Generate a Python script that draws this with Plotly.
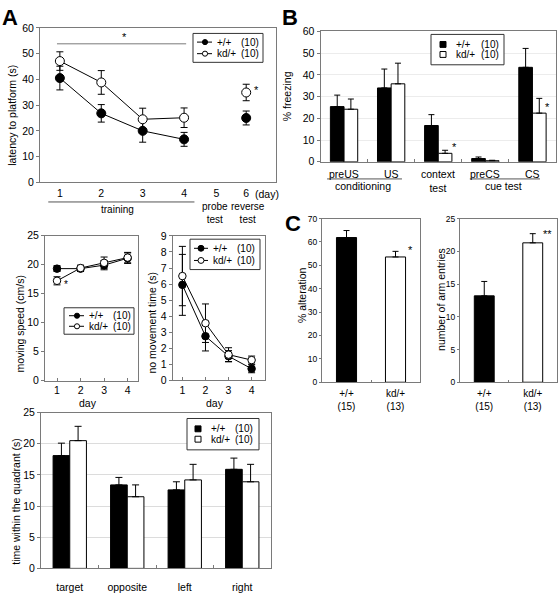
import plotly.graph_objects as go

W, H = 558, 594
FONT = "Liberation Sans, Arial, Helvetica, sans-serif"

# ---------------- data ----------------
# A: water maze, latency to platform (s)
train_days = [1, 2, 3, 4]
latency_wt = [40.5, 26.8, 20.0, 16.7]
latency_wt_err = [4.6, 3.4, 4.4, 2.7]
latency_kd = [47.1, 38.8, 24.5, 25.1]
latency_kd_err = [3.6, 4.6, 4.3, 3.8]
reverse_days = [6]
reverse_wt = [25.0]
reverse_wt_err = [2.7]
reverse_kd = [34.9]
reverse_kd_err = [3.2]
day_ticks = [1, 2, 3, 4, 5, 6]

# B: fear conditioning, % freezing
fear_phases = ["preUS", "US", "context", "preCS", "CS"]
freeze_wt = [25.4, 34.0, 16.7, 1.5, 43.5]
freeze_wt_err = [5.3, 8.7, 5.0, 0.7, 8.7]
freeze_kd = [24.2, 35.9, 3.9, 0.5, 22.4]
freeze_kd_err = [4.7, 9.5, 1.4, 0.2, 6.8]

# C: Y-maze
genotypes_c = ["+/+<br>(15)", "kd/+<br>(13)"]
alternation = [61.9, 53.6]
alternation_err = [3.0, 2.4]
arm_entries = [13.2, 21.3]
arm_entries_err = [2.2, 1.4]

# moving speed (cm/s)
speed_wt = [19.3, 19.3, 19.9, 21.1]
speed_wt_err = [0.5, 0.5, 0.8, 0.9]
speed_kd = [17.2, 19.4, 20.3, 21.2]
speed_kd_err = [0.7, 0.5, 1.0, 0.9]

# no movement time (s)
nomove_wt = [5.95, 2.75, 1.5, 0.72]
nomove_wt_err = [1.9, 0.92, 0.35, 0.25]
nomove_kd = [6.5, 3.56, 1.6, 1.26]
nomove_kd_err = [1.85, 1.2, 0.43, 0.25]

# probe test: time within the quadrant (s)
quadrants = ["target", "opposite", "left", "right"]
quad_wt = [18.1, 13.4, 12.6, 15.9]
quad_wt_err = [2.0, 1.2, 1.3, 1.8]
quad_kd = [20.5, 11.5, 14.2, 13.9]
quad_kd_err = [2.3, 1.9, 2.5, 2.8]

# day -> position on the (compressed after day 4) axis of panel A
day_axis_pos = {1: 1, 2: 2, 3: 3, 4: 4, 5: 4.78, 6: 5.5}

# ---------------- helpers ----------------
def fx(p):
    return p / W

def fy(p):
    return 1 - p / H

def dom_x(a, b):
    return [fx(a), fx(b)]

def dom_y(top, bottom):
    return [fy(bottom), fy(top)]

FRAME = "#7a7a7a"

def axis(domain, rng, anchor, tickfont=10.5, **kw):
    d = dict(domain=domain, range=rng, anchor=anchor, showline=True, mirror=True,
             linecolor=FRAME, linewidth=1, showgrid=False, zeroline=False,
             tickfont=dict(size=tickfont, color="black", family=FONT),
             tickcolor=FRAME, fixedrange=True)
    d.update(kw)
    return d

fig = go.Figure()

def err(arr, sym=True, width=3.5):
    e = dict(type="data", array=arr, color="black", thickness=1, width=width, visible=True)
    if not sym:
        e["symmetric"] = False
        e["arrayminus"] = [0] * len(arr)
    return e

def line_trace(x, y, e, filled, xa, ya, size=8, mode="lines+markers"):
    fig.add_trace(go.Scatter(
        x=x, y=y, mode=mode, xaxis=xa, yaxis=ya, showlegend=False, hoverinfo="skip",
        line=dict(color="black", width=1),
        marker=dict(size=size, color="black" if filled else "white",
                    line=dict(color="black", width=1)),
        error_y=err(e), cliponaxis=False))

# ---- Panel A ----
pos_train = [day_axis_pos[d] for d in train_days]
pos_rev = [day_axis_pos[d] for d in reverse_days]
line_trace(pos_train, latency_wt, latency_wt_err, True, "x", "y", 9)
line_trace(pos_train, latency_kd, latency_kd_err, False, "x", "y", 9)
line_trace(pos_rev, reverse_wt, reverse_wt_err, True, "x", "y", 9, "markers")
line_trace(pos_rev, reverse_kd, reverse_kd_err, False, "x", "y", 9, "markers")

# ---- Panel B ----
fig.add_trace(go.Bar(x=fear_phases, y=freeze_wt, xaxis="x2", yaxis="y2", showlegend=False,
                     hoverinfo="skip",
                     marker=dict(color="black", line=dict(color="black", width=1)),
                     error_y=err(freeze_wt_err, False, 3)))
fig.add_trace(go.Bar(x=fear_phases, y=freeze_kd, xaxis="x2", yaxis="y2", showlegend=False,
                     hoverinfo="skip",
                     marker=dict(color="white", line=dict(color="black", width=1)),
                     error_y=err(freeze_kd_err, False, 3)))

# ---- Panel C ----
fig.add_trace(go.Bar(x=genotypes_c, y=alternation, xaxis="x3", yaxis="y3", showlegend=False,
                     width=0.41, hoverinfo="skip",
                     marker=dict(color=["black", "white"], line=dict(color="black", width=1)),
                     error_y=err(alternation_err, False, 3)))
fig.add_trace(go.Bar(x=genotypes_c, y=arm_entries, xaxis="x4", yaxis="y4", showlegend=False,
                     width=0.41, hoverinfo="skip",
                     marker=dict(color=["black", "white"], line=dict(color="black", width=1)),
                     error_y=err(arm_entries_err, False, 3)))

# ---- moving speed ----
line_trace(train_days, speed_wt, speed_wt_err, True, "x5", "y5", 7.5)
line_trace(train_days, speed_kd, speed_kd_err, False, "x5", "y5", 7.5)

# ---- no movement time ----
line_trace(train_days, nomove_wt, nomove_wt_err, True, "x6", "y6", 7.5)
line_trace(train_days, nomove_kd, nomove_kd_err, False, "x6", "y6", 7.5)

# ---- quadrant ----
fig.add_trace(go.Bar(x=quadrants, y=quad_wt, xaxis="x7", yaxis="y7", showlegend=False,
                     hoverinfo="skip",
                     marker=dict(color="black", line=dict(color="black", width=1)),
                     error_y=err(quad_wt_err, False, 3.5)))
fig.add_trace(go.Bar(x=quadrants, y=quad_kd, xaxis="x7", yaxis="y7", showlegend=False,
                     hoverinfo="skip",
                     marker=dict(color="white", line=dict(color="black", width=1)),
                     error_y=err(quad_kd_err, False, 3.5)))

# ---------------- layout / axes ----------------
layout = dict(
    width=W, height=H, autosize=False,
    margin=dict(l=0, r=0, t=0, b=0),
    paper_bgcolor="white", plot_bgcolor="white",
    font=dict(family=FONT, color="black", size=10.5),
    barmode="group", bargap=0.42, bargroupgap=0,
    showlegend=False,
)

layout["xaxis"] = axis(dom_x(40, 276), [0.52, 6.22], "y",
                       tickvals=[day_axis_pos[d] for d in day_ticks],
                       ticktext=[str(d) for d in day_ticks], ticks="", ticklabelstandoff=1)
layout["yaxis"] = axis(dom_y(22.3, 180), [0, 60], "x", dtick=10, ticks="outside", ticklen=3)

layout["xaxis2"] = axis(dom_x(320.5, 556), [-0.5, 4.5], "y2", showticklabels=False,
                        ticks="inside", ticklen=3, tickson="boundaries")
layout["yaxis2"] = axis(dom_y(26, 159), [0, 60], "x2", dtick=10, ticks="outside", ticklen=3,
                        showgrid=True, gridcolor="#ececec", gridwidth=1)

layout["xaxis3"] = axis(dom_x(322, 420), [-0.5, 1.5], "y3", tickfont=10,
                        ticks="inside", ticklen=2, tickson="boundaries", ticklabelstandoff=2)
layout["yaxis3"] = axis(dom_y(217, 384), [0, 70], "x3", tickfont=8.5, dtick=10,
                        ticks="outside", ticklen=2)

layout["xaxis4"] = axis(dom_x(460, 557), [-0.5, 1.5], "y4", tickfont=10,
                        ticks="inside", ticklen=2, tickson="boundaries", ticklabelstandoff=2)
layout["yaxis4"] = axis(dom_y(217, 384), [0, 25], "x4", tickfont=8.5, dtick=5,
                        ticks="outside", ticklen=2)

layout["xaxis5"] = axis(dom_x(45, 138), [0.49, 4.44], "y5", dtick=1, ticks="inside", ticklen=3,
                        ticklabelstandoff=0)
layout["yaxis5"] = axis(dom_y(234.3, 382.3), [0, 25], "x5", dtick=5, ticks="outside", ticklen=3)

layout["xaxis6"] = axis(dom_x(172.7, 265), [0.58, 4.58], "y6", dtick=1, ticks="inside", ticklen=3,
                        ticklabelstandoff=0)
layout["yaxis6"] = axis(dom_y(234.7, 382), [0, 9], "x6", dtick=1, ticks="outside", ticklen=3)

layout["xaxis7"] = axis(dom_x(41, 271), [-0.5, 3.5], "y7", ticks="inside", ticklen=3,
                        tickson="boundaries", ticklabelstandoff=9)
layout["yaxis7"] = axis(dom_y(415, 574), [0, 25], "x7", dtick=5, ticks="outside", ticklen=3,
                        showgrid=True, gridcolor="#dcdcdc", gridwidth=1)

fig.update_layout(**layout)

annotations = []
shapes = []

def text(x, y, s, size=10.5, xref="paper", yref="paper", xanchor="center",
         yanchor="middle", angle=0, bold=False):
    if xref == "paper":
        x = fx(x)
    if yref == "paper":
        y = fy(y)
    if bold:
        s = "<b>" + s + "</b>"
    annotations.append(dict(x=x, y=y, xref=xref, yref=yref, text=s, showarrow=False,
                            xanchor=xanchor, yanchor=yanchor, textangle=angle,
                            font=dict(size=size, family=FONT, color="black")))

# panel letters
text(10, 12, "A", size=22, bold=True)
text(290, 12, "B", size=22, bold=True)
text(293, 222, "C", size=22, bold=True)

# y titles
text(12, 112, "latency to platform (s)", size=10.5, angle=-90)
text(287, 92, "% freezing", size=10.5, angle=-90)
text(302, 295, "% alteration", size=10.5, angle=-90)
text(441, 300, "number of arm entries", size=10.5, angle=-90)
text(20, 325, "moving speed (cm/s)", size=10.5, angle=-90)
text(152, 323, "no movement time (s)", size=10.5, angle=-90)
text(16, 506, "time within the quadrant (s)", size=10.5, angle=-90)

# x titles
text(88, 405, "day")
text(215, 405, "day")

# Panel A extras
shapes.append(dict(type="line", xref="x", yref="y", x0=0.93, x1=4.05, y0=53.8, y1=53.8,
                   line=dict(color=FRAME, width=1)))
text(2.57, 56.3, "*", xref="x", yref="y", size=11)
text(5.74, 36.0, "*", xref="x", yref="y", size=11)
text(6.0, 192, "(day)", xref="x")
shapes.append(dict(type="line", xref="x", yref="paper", x0=0.72, x1=4.25, y0=fy(200), y1=fy(200),
                   line=dict(color="#555", width=1)))
text(2.38, 208, "training", xref="x", size=10)
text(day_axis_pos[5] - 0.04, 211, "probe<br>test", xref="x", size=10)
text(day_axis_pos[6] + 0.04, 211, "reverse<br>test", xref="x", size=10)

# Panel B extras
text(0, 171, "preUS", xref="x2")
text(1, 171, "US", xref="x2")
text(2, 179, "context<br>test", xref="x2")
text(3, 171, "preCS", xref="x2")
text(4, 171, "CS", xref="x2")
shapes.append(dict(type="line", xref="x2", yref="paper", x0=-0.36, x1=1.23, y0=fy(176.5), y1=fy(176.5),
                   line=dict(color="#555", width=1)))
shapes.append(dict(type="line", xref="x2", yref="paper", x0=2.67, x1=4.16, y0=fy(176.5), y1=fy(176.5),
                   line=dict(color="#555", width=1)))
text(0.41, 184, "conditioning", xref="x2")
text(3.38, 184, "cue test", xref="x2")
text(2.35, 6.8, "*", xref="x2", yref="y2", size=11)
text(4.31, 25.3, "*", xref="x2", yref="y2", size=11)

# Panel C stars
text(1.3, 56.5, "*", xref="x3", yref="y3", size=11)
text(1.3, 22.6, "**", xref="x4", yref="y4", size=11)

# speed star
text(66, 284, "*", size=10)

# legends (drawn as boxes with text)
def legend_box(x0, y0, x1, y1):
    shapes.append(dict(type="rect", xref="paper", yref="paper", x0=fx(x0), x1=fx(x1),
                       y0=fy(y1), y1=fy(y0), line=dict(color="#333", width=1),
                       fillcolor="white", layer="above"))

def line_legend(x0, y0, x1, y1, lx0, lx1, mx, tx, nx, r=2.6):
    legend_box(x0, y0, x1, y1)
    h = y1 - y0
    rows = [(y0 + h * 0.30, True, "+/+"), (y0 + h * 0.70, False, "kd/+")]
    for cy, filled, lab in rows:
        shapes.append(dict(type="line", xref="paper", yref="paper", x0=fx(x0 + lx0),
                           x1=fx(x0 + lx1), y0=fy(cy), y1=fy(cy),
                           line=dict(color="black", width=1), layer="above"))
        shapes.append(dict(type="circle", xref="paper", yref="paper",
                           x0=fx(x0 + mx - r), x1=fx(x0 + mx + r), y0=fy(cy + r), y1=fy(cy - r),
                           fillcolor="black" if filled else "white",
                           line=dict(color="black", width=1), layer="above"))
        text(x0 + tx, cy, lab, xanchor="left", size=10)
        text(x0 + nx, cy, "(10)", xanchor="left", size=10)

def bar_legend(x0, y0, x1, y1, sx, tx, nx, s=3):
    legend_box(x0, y0, x1, y1)
    h = y1 - y0
    rows = [(y0 + h * 0.33, True, "+/+"), (y0 + h * 0.66, False, "kd/+")]
    for cy, filled, lab in rows:
        shapes.append(dict(type="rect", xref="paper", yref="paper",
                           x0=fx(x0 + sx - s), x1=fx(x0 + sx + s), y0=fy(cy + s), y1=fy(cy - s),
                           fillcolor="black" if filled else "white",
                           line=dict(color="black", width=1), layer="above"))
        text(x0 + tx, cy, lab, xanchor="left", size=10)
        text(x0 + nx, cy, "(10)", xanchor="left", size=10)

line_legend(193, 28, 263, 57.5, 4, 19, 12, 22, 46)
line_legend(64, 308, 134, 335, 5, 20, 13, 23, 47)
line_legend(190, 238, 260, 269, 4, 18, 11, 21, 45, r=3)
bar_legend(431, 29, 504, 60, 12, 23, 48)
bar_legend(187, 421, 259, 453, 11, 22, 46)

fig.update_layout(annotations=annotations, shapes=shapes)

fig.write_html(
    "out.html",
    config={"displayModeBar": False, "staticPlot": True},
    post_script="document.body.style.margin='0';document.body.style.overflow='hidden';",
)
